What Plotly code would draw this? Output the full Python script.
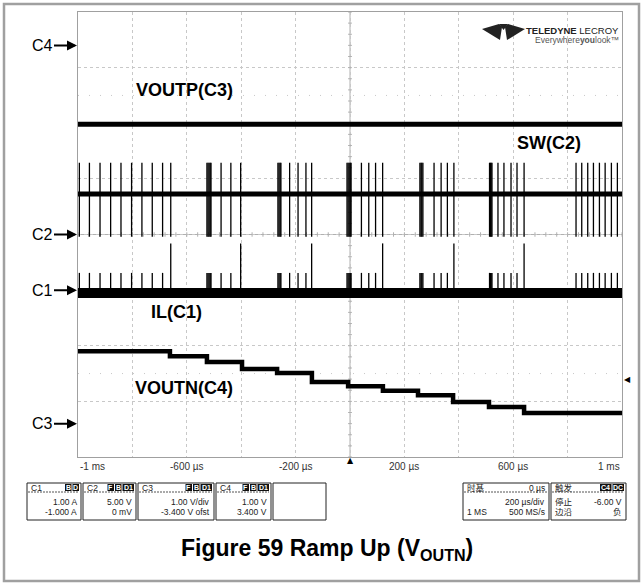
import plotly.graph_objects as go

# ---------------- data ----------------
time_range_us = [-1000, 1000]
xtick_vals_us = [-1000, -600, -200, 200, 600, 1000]
xtick_text = ["-1 ms", "-600 µs", "-200 µs", "200 µs", "600 µs", "1 ms"]

# channel settings from the status boxes: units per division and offset
ch_names = ["C1", "C2", "C3", "C4"]
ch_scale = [1.0, 5.0, 1.0, 1.0]
ch_offset = [-1.0, 0.0, -3.4, 3.4]

# C3 : VOUTP (V)
voutp_level_v = 5.38
# C2 : SW node (V)
sw_base_v = 3.65
sw_high_v = 6.45
sw_low_v = -0.2
# C1 : inductor current (A)
il_base_a = -0.05
il_spike_a = 0.31
il_tall_spike_a = 0.84

# switching pulse times (µs); bursts appear as tight groups
sw_spike_times_us = [
    -995, -958, -919, -880, -842, -803, -765, -727, -689, -659,
    -526, -522, -518, -514, -511, -474, -438, -402,
    -265, -261, -257, -254, -222, -191, -162, -141,
    -11, -7, -3, 1, 4, 42, 69, 94, 120,
    257, 261, 264, 268, 309, 335, 358, 382,
    513, 516, 519, 522, 544, 566, 592, 614, 640,
    831, 852, 874, 895, 917, 938, 961, 983,
]
il_tall_times_us = [-659, -402, -141, 120, 382, 640]

# C4 : VOUTN staircase (V)
voutn_step_times_us = [-1000, -662, -526, -397, -268, -140, -7, 121, 250, 379, 511, 640]
voutn_levels_v = [-5.50, -5.59, -5.69, -5.82, -5.89, -6.05, -6.13, -6.21, -6.29, -6.41, -6.50, -6.61]

trigger_level_v = -6.00

# ---------------- layout geometry ----------------
W, H = 641, 583
L, R, T, B = 78, 622, 12, 457


def px(x):
    return (x - L) / (R - L)


def py(y):
    return (B - y) / (B - T)


def to_div(v, ch):
    i = ch_names.index(ch)
    return (v + ch_offset[i]) / ch_scale[i]


fig = go.Figure()

# center cross tick marks (graticule decoration)
tx, ty = [], []
for k in range(-20, 21):
    yv = k * 0.2
    tx += [-7, 7, None]
    ty += [yv, yv, None]
for k in range(-25, 26):
    xv = k * 40
    tx += [xv, xv, None]
    ty += [-0.04, 0.04, None]
fig.add_trace(go.Scatter(x=tx, y=ty, mode="lines", line=dict(color="#b0b0b0", width=1),
                         hoverinfo="skip"))

# VOUTP (C3)
fig.add_trace(go.Scatter(x=time_range_us, y=[to_div(voutp_level_v, "C3")] * 2, mode="lines",
                         line=dict(color="black", width=5), name="VOUTP"))

# SW (C2): baseline + spikes
sx, sy = [], []
for t in sw_spike_times_us:
    sx += [t, t, None]
    sy += [to_div(sw_low_v, "C2"), to_div(sw_high_v, "C2"), None]
fig.add_trace(go.Scatter(x=sx, y=sy, mode="lines", line=dict(color="black", width=1.3), name="SW spikes"))
fig.add_trace(go.Scatter(x=time_range_us, y=[to_div(sw_base_v, "C2")] * 2, mode="lines",
                         line=dict(color="black", width=5), name="SW"))

# IL (C1): band + spikes
ix, iy = [], []
for t in sw_spike_times_us:
    peak = il_tall_spike_a if t in il_tall_times_us else il_spike_a
    ix += [t, t, None]
    iy += [to_div(il_base_a, "C1"), to_div(peak, "C1"), None]
fig.add_trace(go.Scatter(x=ix, y=iy, mode="lines", line=dict(color="black", width=1.3), name="IL spikes"))
fig.add_trace(go.Scatter(x=time_range_us, y=[to_div(il_base_a, "C1")] * 2, mode="lines",
                         line=dict(color="black", width=10), name="IL"))

# VOUTN (C4) staircase
vx = voutn_step_times_us + [time_range_us[1]]
vy = [to_div(v, "C4") for v in voutn_levels_v] + [to_div(voutn_levels_v[-1], "C4")]
fig.add_trace(go.Scatter(x=vx, y=vy, mode="lines", line_shape="hv",
                         line=dict(color="black", width=4.5), name="VOUTN"))

shapes = []
annotations = []


def text_at(x, y, text, font, xanchor="center", yanchor="middle"):
    annotations.append(dict(x=px(x), y=py(y), xref="paper", yref="paper", text=text,
                            showarrow=False, xanchor=xanchor, yanchor=yanchor, font=font))


# outer frame
shapes.append(dict(type="rect", xref="paper", yref="paper", x0=px(4), x1=px(639), y0=py(581), y1=py(4),
                   line=dict(color="#a0a0a0", width=2.5), layer="below"))
# center cross lines
shapes.append(dict(type="line", xref="x", yref="y", x0=0, x1=0, y0=-4, y1=4,
                   line=dict(color="#b0b0b0", width=1), layer="below"))
shapes.append(dict(type="line", xref="x", yref="y", x0=-1000, x1=1000, y0=0, y1=0,
                   line=dict(color="#b0b0b0", width=1), layer="below"))
# faint dotted rows
for yv in (2.5, -2.5):
    shapes.append(dict(type="line", xref="x", yref="y", x0=-1000, x1=1000, y0=yv, y1=yv,
                       line=dict(color="#c8c8c8", width=1, dash="1px,10px"), layer="below"))

# channel ground arrows
for ch in ch_names:
    annotations.append(dict(x=0, xref="paper", y=to_div(0, ch), yref="y", text=ch,
                            showarrow=True, ax=-36, ay=0, arrowhead=2, arrowsize=1, arrowwidth=2,
                            arrowcolor="black", standoff=1,
                            font=dict(family="Arial", size=16, color="black")))

# trace labels
label_font = dict(family="Arial", size=18, color="black")
for txt, xx, yy in [("VOUTP(C3)", 184, 90), ("SW(C2)", 549, 143), ("IL(C1)", 176, 312), ("VOUTN(C4)", 184, 388)]:
    text_at(xx, yy, "<b>%s</b>" % txt, label_font)

# time tick labels
for v, t in zip(xtick_vals_us, xtick_text):
    anchor = "left" if v == xtick_vals_us[0] else ("right" if v == xtick_vals_us[-1] else "center")
    annotations.append(dict(x=v, xref="x", y=py(466), yref="paper", text=t, showarrow=False,
                            xanchor=anchor, yanchor="middle",
                            font=dict(family="Arial", size=10, color="#333333")))

# trigger markers
annotations.append(dict(x=0, xref="x", y=py(461), yref="paper", text="▲", showarrow=False,
                        xanchor="center", yanchor="middle",
                        font=dict(family="DejaVu Sans", size=8, color="black")))
annotations.append(dict(x=px(627), xref="paper", y=to_div(trigger_level_v, "C4"), yref="y", text="◀",
                        showarrow=False, xanchor="center", yanchor="middle",
                        font=dict(family="DejaVu Sans", size=8, color="black")))

# logo
text_at(621, 30, "<b>TELEDYNE</b> LECROY", dict(family="Arial", size=9.5, color="#222222"), xanchor="right")
text_at(621, 39.5, "Everywhere<b>you</b>look™", dict(family="Arial", size=8.5, color="#555555"), xanchor="right")
logo_polys = [
    [(482, 29), (499, 24), (502, 27), (500, 40)],
    [(525, 29), (508, 24), (505, 27), (507, 40)],
    [(499, 24), (508, 24), (503.5, 30)],
]
for poly in logo_polys:
    path = "M " + " L ".join("%f,%f" % (px(a), py(b)) for a, b in poly) + " Z"
    shapes.append(dict(type="path", xref="paper", yref="paper", path=path,
                       fillcolor="#222222", line=dict(width=0)))

# status boxes
BOX_Y0, BOX_Y1 = 483, 520
small = dict(family="Arial, Noto Sans CJK SC", size=8.5, color="#222222")


def status_box(x0, x1, head_left="", badges=(), head_right="", rows=()):
    shapes.append(dict(type="rect", xref="paper", yref="paper", x0=px(x0), x1=px(x1),
                       y0=py(BOX_Y1), y1=py(BOX_Y0), line=dict(color="#222222", width=1),
                       fillcolor="white"))
    if head_left or badges or head_right or rows:
        shapes.append(dict(type="line", xref="paper", yref="paper", x0=px(x0 + 1), x1=px(x1 - 2),
                           y0=py(492), y1=py(492), line=dict(color="#555555", width=1, dash="2px,1px")))
    if head_left:
        text_at(x0 + 2, 487.5, head_left, small, xanchor="left")
    if head_right:
        text_at(x1 - 2, 487.5, head_right, small, xanchor="right")
    bx = x1 - 2
    for b in reversed(badges):
        w = 6.5 if len(b) == 1 else 11.5
        shapes.append(dict(type="rect", xref="paper", yref="paper", x0=px(bx - w), x1=px(bx),
                           y0=py(491), y1=py(484), fillcolor="#111111", line=dict(width=0)))
        text_at(bx - w / 2, 487.5, "<b>%s</b>" % b, dict(family="Arial", size=7, color="white"))
        bx -= w + 1
    for k, (lt, rt) in enumerate(rows):
        yy = 502 + 10.3 * k
        if lt:
            text_at(x0 + 2, yy, lt, small, xanchor="left")
        if rt:
            text_at(x1 - 2, yy, rt, small, xanchor="right")


status_box(27, 81, "C1", ("B", "D"), rows=(("", "1.00 A"), ("", "-1.000 A")))
status_box(83, 136, "C2", ("F", "B", "D1"), rows=(("", "5.00 V"), ("", "0 mV")))
status_box(138, 214, "C3", ("F", "B", "D1"), rows=(("", "1.00 V/div"), ("", "-3.400 V ofst")))
status_box(216, 271, "C4", ("F", "B", "D1"), rows=(("", "1.00 V"), ("", "3.400 V")))
status_box(273, 326)
status_box(463, 549, "时基", (), "0 µs", rows=(("", "200 µs/div"), ("1 MS", "500 MS/s")))
status_box(551, 626, "触发", ("C4", "DC"), rows=(("停止", "-6.00 V"), ("边沿", "负")))

# caption
text_at(327, 549, "<b>Figure 59 Ramp Up (V<sub>OUTN</sub>)</b>", dict(family="Arial", size=23, color="black"))

fig.update_layout(
    width=W, height=H, autosize=False,
    margin=dict(l=L, r=W - R, t=T, b=H - B, pad=0),
    paper_bgcolor="white", plot_bgcolor="white",
    showlegend=False,
    shapes=shapes, annotations=annotations,
    xaxis=dict(range=time_range_us, showgrid=True, gridcolor="#c8c8c8", griddash="dot",
               tick0=-1000, dtick=200, showticklabels=False, ticks="", zeroline=False,
               showline=True, mirror=True, linecolor="#a0a0a0", linewidth=1),
    yaxis=dict(range=[-4, 4], showgrid=True, gridcolor="#c8c8c8", griddash="dot",
               tick0=-4, dtick=1, showticklabels=False, ticks="", zeroline=False,
               showline=True, mirror=True, linecolor="#a0a0a0", linewidth=1),
)

fig.write_html("out.html", config={"displayModeBar": False},
               post_script="document.body.style.margin='0px';document.body.style.overflow='hidden';")
